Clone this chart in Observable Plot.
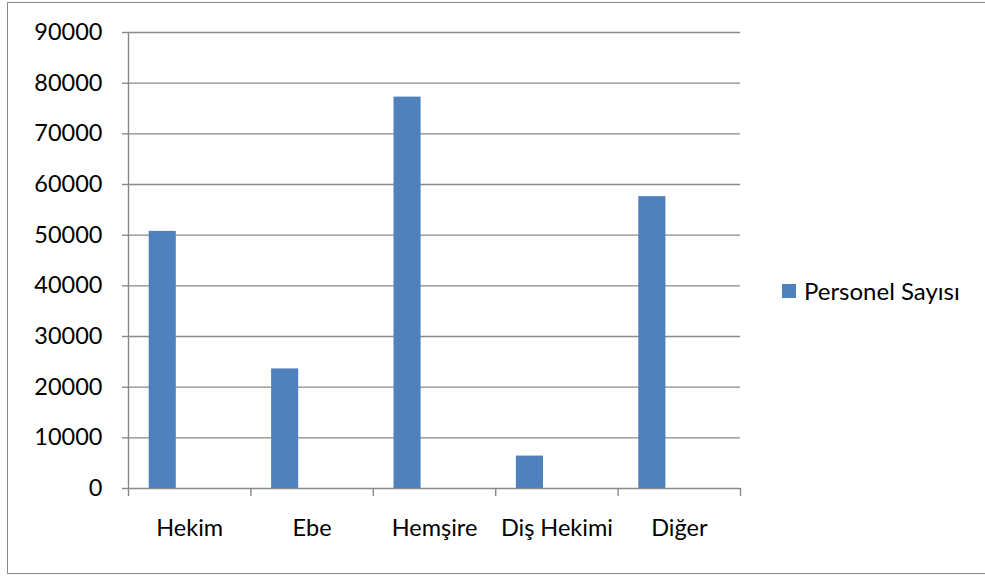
<!DOCTYPE html>
<html>
<head>
<meta charset="utf-8">
<script src="https://cdn.jsdelivr.net/npm/d3@7"></script>
<script src="https://cdn.jsdelivr.net/npm/@observablehq/plot@0.6"></script>
<style>
  html, body { margin: 0; padding: 0; background: #fff; overflow: hidden; }
  #wrap { position: relative; width: 985px; height: 576px; overflow: hidden; font-family: Lato, "Open Sans", sans-serif; }
  #border { position: absolute; left: 7px; top: 2px; width: 1000px; height: 572px; border: 1.5px solid #888; border-right: none; box-sizing: border-box; }
  #chart { position: absolute; left: 0; top: 0; }
  #legend { position: absolute; left: 782px; top: 276px; display: flex; align-items: center; font-size: 24px; color: #000; }
  #legend .sw { width: 14px; height: 14px; background: #4F81BD; margin-right: 8px; }
</style>
</head>
<body>
<div id="wrap">
  <div id="border"></div>
  <div id="chart"></div>
  <div id="legend"><span class="sw"></span><span id="legend-label"></span></div>
</div>
<script>
const categories = ["Hekim", "Ebe", "Hemşire", "Diş Hekimi", "Diğer"];
const values = [50750, 23600, 77250, 6400, 57600];
const seriesName = "Personel Sayısı";
const yTicks = [0, 10000, 20000, 30000, 40000, 50000, 60000, 70000, 80000, 90000];

document.getElementById("legend-label").textContent = seriesName;

const data = categories.map((c, i) => ({category: c, index: i, value: values[i]}));
const edges = d3.range(categories.length + 1);
const centers = categories.map((c, i) => i + 0.5);
const gray = "#898989";

const chart = Plot.plot({
  width: 985,
  height: 576,
  marginLeft: 128,
  marginRight: 245,
  marginTop: 32,
  marginBottom: 88,
  style: {fontFamily: "Lato, 'Open Sans', sans-serif", fontSize: "23.5px", color: "#000", background: "transparent"},
  x: {domain: [0, categories.length]},
  y: {domain: [0, 90000]},
  marks: [
    Plot.ruleY(yTicks, {stroke: gray, strokeWidth: 1.4}),
    Plot.rectY(data, {x1: "index", x2: d => d.index + 1, y: "value", fill: "#4F81BD", insetLeft: 20.7, insetRight: 74.6}),
    Plot.ruleX([0], {stroke: gray, strokeWidth: 1.4}),
    Plot.axisY({ticks: yTicks, tickSize: 6, tickPadding: 20, tickFormat: d => String(d), stroke: gray, strokeWidth: 1.4, strokeOpacity: 1, label: null, fill: "#000"}),
    Plot.axisX({ticks: edges, tickSize: 8, tickFormat: () => "", stroke: gray, strokeWidth: 1.4, strokeOpacity: 1, label: null}),
    Plot.axisX({ticks: centers, tickSize: 0, tickPadding: 31, tickFormat: d => categories[Math.floor(d)], label: null, fill: "#000"})
  ]
});
document.getElementById("chart").appendChild(chart);
</script>
</body>
</html>
